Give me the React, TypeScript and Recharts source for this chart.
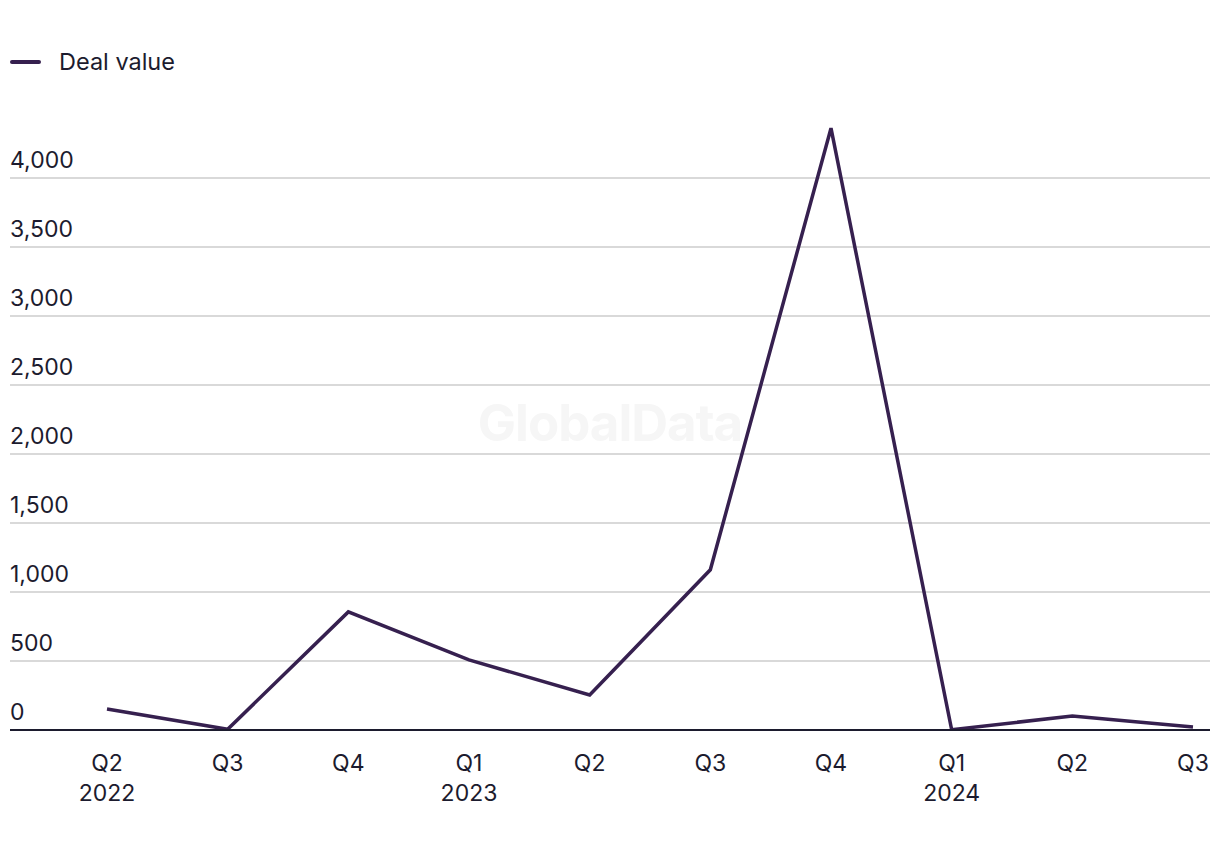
import { LineChart, Line, XAxis, YAxis, CartesianGrid } from "recharts";

const quarters = ["Q2", "Q3", "Q4", "Q1", "Q2", "Q3", "Q4", "Q1", "Q2", "Q3"];
const years = ["2022", "", "", "2023", "", "", "", "2024", "", ""];
const dealValue = [152, 5, 856, 508, 254, 1161, 4361, 2, 102, 22];
const yTicks = [0, 500, 1000, 1500, 2000, 2500, 3000, 3500, 4000];
const Y_MAX = 4500;

const data = quarters.map((q, i) => ({
  key: `${q}-${i}`,
  quarter: q,
  year: years[i],
  value: dealValue[i],
}));

const TEXT = "#1c1b2e";
const LINE = "#36204f";
const FONT = "Inter, 'Noto Sans', sans-serif";
const FS = 23;

function renderXTick({ x, y, index }: any) {
  return (
    <g key={`xt-${index}`}>
      <text x={x} y={y + 41} textAnchor="middle" fontSize={FS} fill={TEXT} fontFamily={FONT}>
        {quarters[index]}
      </text>
      {years[index] ? (
        <text x={x} y={y + 71} textAnchor="middle" fontSize={FS} fill={TEXT} fontFamily={FONT}>
          {years[index]}
        </text>
      ) : null}
    </g>
  );
}

function renderYTick({ y, payload, index }: any) {
  return (
    <text key={`yt-${index}`} x={10} y={y - 10} textAnchor="start" fontSize={FS} fill={TEXT} fontFamily={FONT}>
      {Number(payload.value).toLocaleString("en-US")}
    </text>
  );
}

// grid lines only at the labelled ticks (not at the domain top)
function gridRows({ offset }: any) {
  return yTicks.map((t) => offset.top + offset.height * (1 - t / Y_MAX));
}

export default function App() {
  return (
    <div style={{ position: "absolute", left: 0, top: 0, width: 1220, height: 850, background: "#fff", fontFamily: FONT }}>
      <div style={{ position: "absolute", left: 10, top: 47, display: "flex", alignItems: "center" }}>
        <span style={{ display: "inline-block", width: 31, height: 4, borderRadius: 2, background: LINE }} />
        <span style={{ marginLeft: 18, fontSize: FS + 0.5, color: TEXT }}>Deal value</span>
      </div>
      <div
        style={{
          position: "absolute",
          left: 0,
          width: 1220,
          top: 392,
          textAlign: "center",
          fontSize: 51,
          fontWeight: 700,
          color: "#f6f6f6",
          letterSpacing: -1,
        }}
      >
        GlobalData
      </div>
      <LineChart
        width={1220}
        height={850}
        data={data}
        margin={{ top: 109, right: 10, left: 9, bottom: 60 }}
        style={{ position: "absolute", left: 0, top: 0 }}
      >
        <CartesianGrid
          horizontal
          vertical={false}
          stroke="#d9d9d9"
          strokeWidth={2}
          horizontalCoordinatesGenerator={gridRows}
        />
        <YAxis
          width={1}
          domain={[0, Y_MAX]}
          ticks={yTicks}
          interval={0}
          axisLine={false}
          tickLine={false}
          tick={renderYTick}
          allowDataOverflow
        />
        <XAxis
          dataKey="key"
          height={60}
          padding={{ left: 97, right: 17 }}
          axisLine={{ stroke: TEXT, strokeWidth: 2 }}
          tickLine={false}
          tickSize={0}
          tickMargin={0}
          interval={0}
          tick={renderXTick}
        />
        <Line
          type="linear"
          dataKey="value"
          stroke={LINE}
          strokeWidth={3.5}
          dot={false}
          activeDot={false}
          isAnimationActive={false}
        />
      </LineChart>
    </div>
  );
}
